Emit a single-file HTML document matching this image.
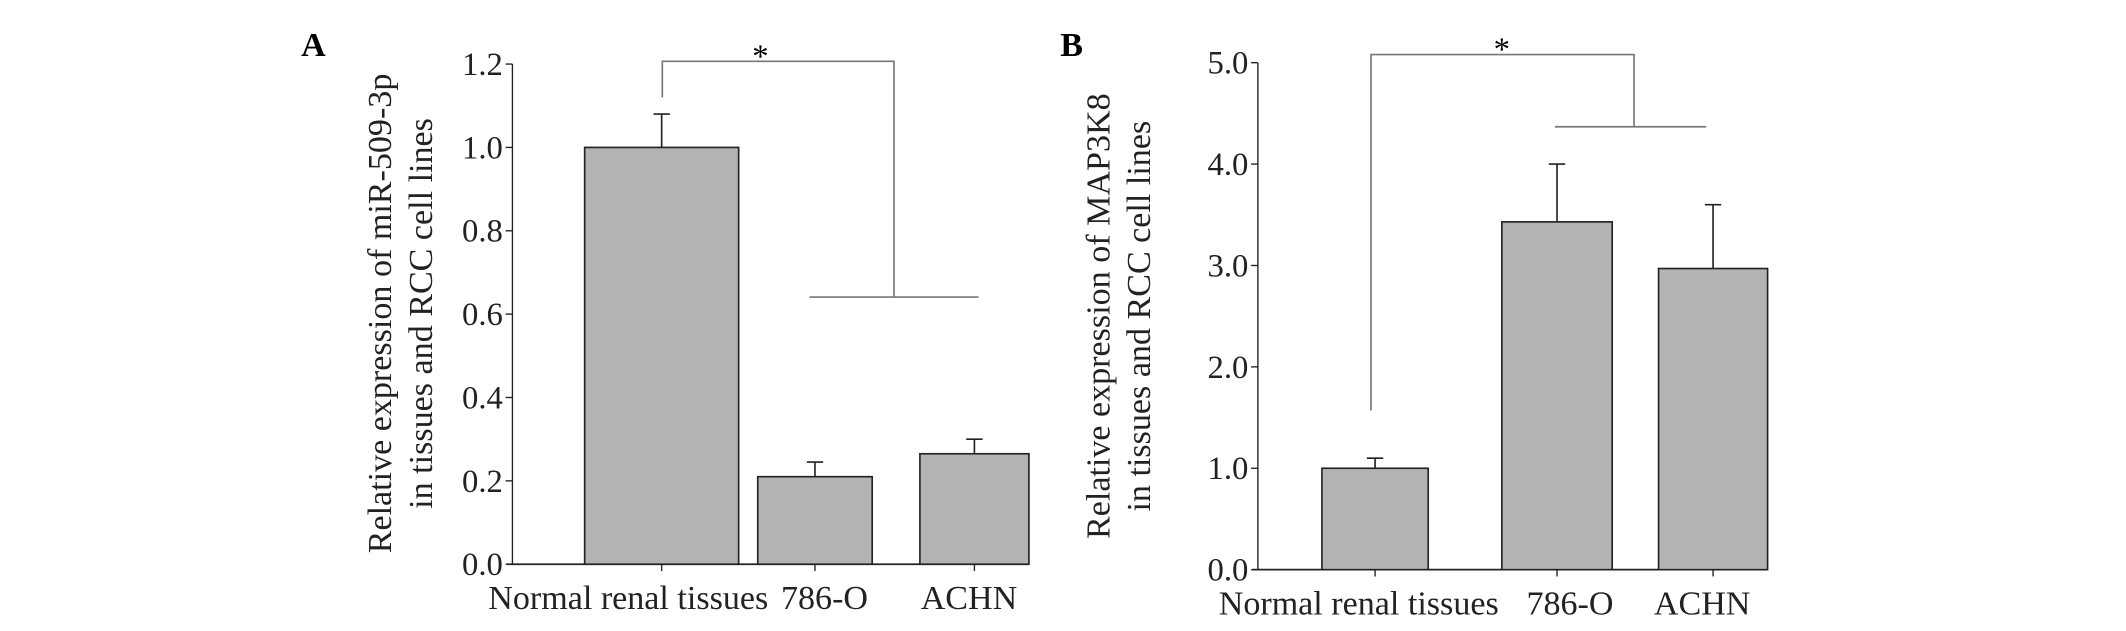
<!DOCTYPE html>
<html><head><meta charset="utf-8"><style>
html,body{margin:0;padding:0;background:#fff;}
svg{display:block;font-family:"Liberation Serif",serif;}
</style></head><body>
<svg id="c" width="2126" height="631" viewBox="0 0 1560 463"></svg>
<script>
const categories=["Normal renal tissues","786-O","ACHN"];
const valuesA=[1.0,0.21,0.265];
const errorsA=[0.08,0.035,0.035];
const valuesB=[1.0,3.43,2.97];
const errorsB=[0.1,0.57,0.63];
const ticksA=["0.0","0.2","0.4","0.6","0.8","1.0","1.2"];
const ticksB=["0.0","1.0","2.0","3.0","4.0","5.0"];
const NS="http://www.w3.org/2000/svg";
const svg=document.getElementById('c');
function el(t,a,p){const e=document.createElementNS(NS,t);for(const k in a)e.setAttribute(k,a[k]);(p||svg).appendChild(e);return e;}
function panel(cfg){
  const g=el('g',{});
  
  
  const y=v=>cfg.y0-(v/cfg.max)*(cfg.y0-cfg.yTop);
  const lt=el('text',{x:cfg.letterX,y:41,'font-size':25,'font-weight':'bold'},g);lt.textContent=cfg.letter;
  
  
  const ax=el('line',{x1:cfg.ax,y1:cfg.yTop,x2:cfg.ax,y2:cfg.y0,stroke:'#222','stroke-width':1},g);
  
  
  const xa=el('line',{x1:cfg.ax-4,y1:cfg.y0,x2:cfg.xEnd,y2:cfg.y0,stroke:'#222','stroke-width':1.3},g);
  
  
  cfg.ticks.forEach(t=>{
    const yy=y(parseFloat(t));
    el('line',{x1:cfg.ax-5,y1:yy,x2:cfg.ax,y2:yy,stroke:'#222'},g);
    const tx=el('text',{x:cfg.ax-7,y:yy+8,'font-size':24,'text-anchor':'end',fill:'#222'},g);tx.textContent=t;
    
    
  });
  cfg.values.forEach((v,i)=>{
    const [x1,x2]=cfg.bars[i];const cx=(x1+x2)/2;
    const eb=el('line',{x1:cx,y1:y(v),x2:cx,y2:y(v+cfg.errors[i]),stroke:'#222','stroke-width':1.2},g);
    
    
    el('line',{x1:cx-6,y1:y(v+cfg.errors[i]),x2:cx+6,y2:y(v+cfg.errors[i]),stroke:'#222','stroke-width':1.2},g);
    const r=el('rect',{x:x1,y:y(v),width:x2-x1,height:cfg.y0-y(v),fill:'#b3b3b3',stroke:'#222','stroke-width':1.2},g);
    
    
    el('line',{x1:cx,y1:cfg.y0,x2:cx,y2:cfg.y0+5,stroke:'#222'},g);
    const lb=el('text',{x:cfg.labelX[i],y:cfg.y0+33,'font-size':25,'text-anchor':'middle',fill:'#222'},g);lb.textContent=categories[i];
    
    
  });
  const b=cfg.br;
  const p=el('path',{d:`M${b.l} ${y(b.lv)} V${b.top} H${b.r} V${b.rv} M${b.h1} ${b.rv} H${b.h2}`,fill:'none',stroke:'#777','stroke-width':1.2},g);
  
  
  const st=el('text',{x:b.star,y:b.top+4,'font-size':24,'text-anchor':'middle'},g);st.textContent='*';
  
  
  const tt=el('text',{transform:`translate(${cfg.titleX},${cfg.titleY}) rotate(-90)`,'font-size':25,'text-anchor':'middle',fill:'#222'},g);
  
  
  const t1=el('tspan',{x:0,y:0},tt);t1.textContent=cfg.title[0];
  const t2=el('tspan',{x:0,y:30},tt);t2.textContent=cfg.title[1];
}
panel({name:'panel-a',letter:'A',letterX:221,ax:376,yTop:47,y0:414,max:1.2,xEnd:755,ticks:ticksA,values:valuesA,errors:errorsA,
  bars:[[429,542],[556,640],[675,755]],labelX:[461,605,711],
  br:{l:486,lv:1.12,top:45,r:656,rv:218,h1:594,h2:718,star:558},
  titleX:287,titleY:230,title:["Relative expression of miR-509-3p","in tissues and RCC cell lines"]});
panel({name:'panel-b',letter:'B',letterX:778,ax:923,yTop:46,y0:418,max:5.0,xEnd:1297,ticks:ticksB,values:valuesB,errors:errorsB,
  bars:[[970,1048],[1102,1183],[1217,1297]],labelX:[997,1152,1249],
  br:{l:1006,lv:1.57,top:40,r:1199,rv:93,h1:1141,h2:1252,star:1102},
  titleX:814,titleY:232,title:["Relative expression of MAP3K8","in tissues and RCC cell lines"]});
</script>
</body></html>
